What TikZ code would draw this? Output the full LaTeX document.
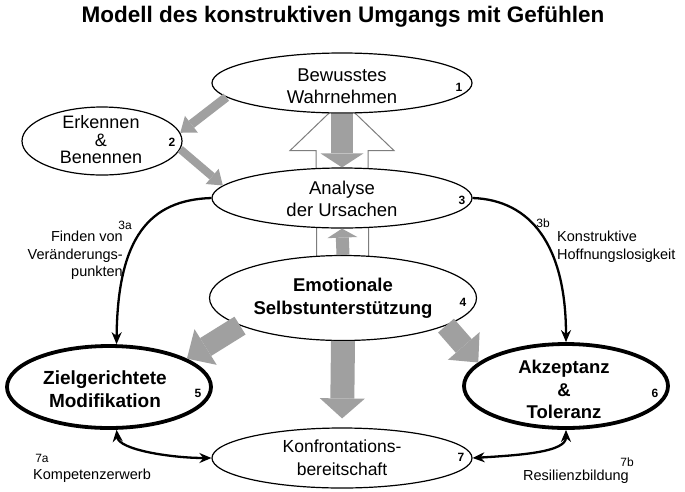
\documentclass[tikz,border=0pt]{standalone}
\usepackage{fontspec}
\setmainfont{Liberation Sans}
\usetikzlibrary{shapes.geometric,arrows.meta,calc,backgrounds}
\definecolor{garrow}{RGB}{160,160,160}
\definecolor{gedge}{RGB}{125,125,125}
\begin{document}
\begin{tikzpicture}[x=1pt,y=-1pt,
  ell/.style={ellipse, draw=black, line width=1.2pt, fill=white, inner sep=0pt},
  thickell/.style={ell, line width=3.8pt},
  regtext/.style={font=\fontsize{18.5}{22}\selectfont, align=center, inner sep=0pt},
  boldtext/.style={font=\fontsize{18.5}{22.5}\selectfont\bfseries, align=center, inner sep=0pt},
  numtext/.style={font=\fontsize{12}{12}\selectfont\bfseries, inner sep=0pt},
  smalltext/.style={font=\fontsize{14.5}{17.5}\selectfont, inner sep=0pt},
  tagtext/.style={font=\fontsize{12}{12}\selectfont, inner sep=0pt},
  blockarr/.style n args={3}{draw=garrow, line width=#1, -{Triangle[length=#3, width=#2, line width=0pt]}},
  conn/.style={draw=black, line width=2.3pt},
  tipb/.tip={Stealth[length=12pt, width=10pt]},
  whitearr/.style={draw=gedge, line width=1pt, fill=white}
]
\useasboundingbox (0,0) rectangle (685,491);

% ellipses
\node[ell, minimum width=260pt, minimum height=60pt] (e1) at (342,83) {};
\node[ell, minimum width=160pt, minimum height=68pt] (e2) at (102,141) {};
\node[ell, minimum width=260pt, minimum height=60pt] (e3) at (342,198) {};
\node[ell, minimum width=267pt, minimum height=85pt] (e4) at (343,298) {};
\node[thickell, minimum width=204pt, minimum height=82pt] (e5) at (109,387) {};
\node[thickell, minimum width=204pt, minimum height=84pt] (e6) at (566,386) {};
\node[ell, minimum width=260pt, minimum height=60pt] (e7) at (342,458) {};

% big white arrow behind the ellipses
\begin{scope}[on background layer]
\fill[white] (0,0) rectangle (685,491);
\draw[whitearr] ($(e4.center)+(-26,0)$) -- ($(e1.south)+(-26,37)$) -- ($(e1.south)+(-52,37)$)
  -- ($(e1.south)+(0,-13)$) -- ($(e1.south)+(52,37)$) -- ($(e1.south)+(26,37)$)
  -- ($(e4.center)+(26,0)$) -- cycle;
\end{scope}

% texts
\node[font=\fontsize{22.5}{27}\selectfont\bfseries, anchor=base, inner sep=0pt] (title) at (343,22) {Modell des konstruktiven Umgangs mit Gefühlen};
\node[regtext] (t1) at (342,86) {Bewusstes\\Wahrnehmen};
\node[regtext, font=\fontsize{18}{17.5}\selectfont] (t2) at (101,140) {Erkennen\\\&\\Benennen};
\node[regtext] (t3) at (342,199) {Analyse\\der Ursachen};
\node[boldtext] (t4) at (343,298) {Emotionale\\Selbstunterstützung};
\node[boldtext, font=\fontsize{19}{23}\selectfont\bfseries] (t5) at (105,389.5) {Zielgerichtete\\Modifikation};
\node[boldtext] (t6) at (564,389.5) {Akzeptanz\\\&\\Toleranz};
\node[regtext, font=\fontsize{17.5}{23}\selectfont] (t7) at (342,458) {Konfrontations-\\bereitschaft};

\node[numtext] (n1) at (459,87) {1};
\node[numtext] (n2) at (172,142) {2};
\node[numtext] (n3) at (462,200) {3};
\node[numtext] (n4) at (463,302) {4};
\node[numtext] (n5) at (198,393) {5};
\node[numtext] (n6) at (655,393) {6};
\node[numtext] (n7) at (461,457) {7};

\node[tagtext] (l3a) at (125,225) {3a};
\node[smalltext, align=right, anchor=east] (d3a) at (123,255.5) {Finden von\\Veränderungs-\\punkten};
\node[tagtext] (l3b) at (543,223) {3b};
\node[smalltext, align=left, anchor=west] (d3b) at (557,246.5) {Konstruktive\\Hoffnungslosigkeit};
\node[tagtext] (l7a) at (42,458) {7a};
\node[smalltext, anchor=west] (d7a) at (33,476) {Kompetenzerwerb};
\node[tagtext] (l7b) at (627,462) {7b};
\node[smalltext, anchor=west] (d7b) at (523,477) {Resilienzbildung};

% gray block arrows
\draw[blockarr={9pt}{21pt}{14pt}] (e1.187) -- (e2.6);
\draw[blockarr={8pt}{20pt}{14pt}] (e2.-6) -- (e3.174);
\draw[blockarr={22pt}{43pt}{14pt}] (e1.south) -- (e3.north);
\draw[blockarr={13pt}{30pt}{9pt}] (e4.north) -- (e3.south);
\draw[blockarr={21pt}{42pt}{22pt}] (e4.195) -- (e5.20);
\draw[blockarr={21pt}{42pt}{22pt}] (e4.-15) -- (e6.165);
\draw[blockarr={24pt}{45pt}{20pt}, shorten >=9pt] (e4.south) -- (e7.north);

% black connectors
\draw[conn, -tipb] (e3.west) .. controls +(-62,2) and +(1,-107) .. (e5.80);
\draw[conn, -tipb] (e3.east) .. controls +(58,2) and +(0,-97) .. (e6.north);
\draw[conn, tipb-tipb] (e5.-80) .. controls +(2,20) and +(-40,0) .. (e7.west);
\draw[conn, tipb-tipb] (e7.east) .. controls +(50,-3) and +(0,22) .. (e6.south);
\end{tikzpicture}
\end{document}
